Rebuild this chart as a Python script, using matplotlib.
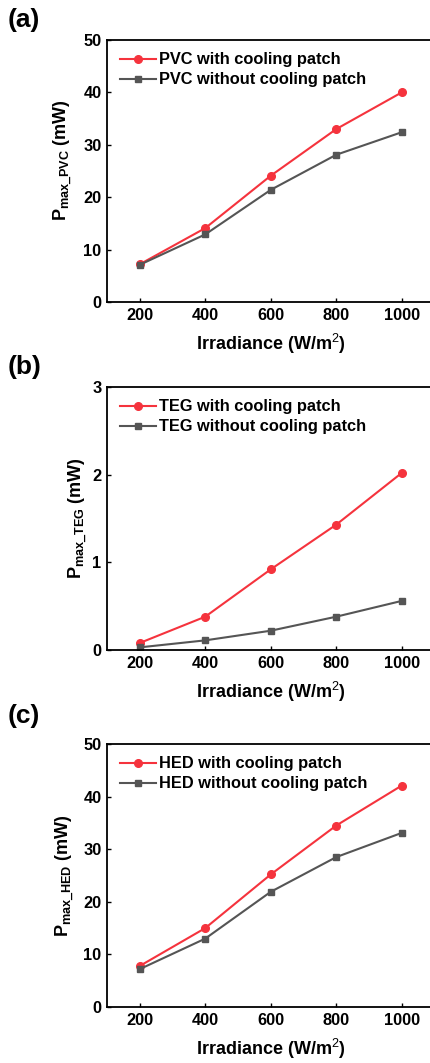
import matplotlib
matplotlib.use('Agg')
import matplotlib.pyplot as plt

plt.rcParams['font.family'] = ['Liberation Sans', 'DejaVu Sans']
plt.rcParams['mathtext.fontset'] = 'custom'
plt.rcParams['mathtext.rm'] = 'Liberation Sans'
plt.rcParams['mathtext.default'] = 'rm'

# datos
irradiance = [200, 400, 600, 800, 1000]

pvc_with = [7.2, 14.1, 24.1, 33.0, 40.0]
pvc_without = [7.1, 12.9, 21.4, 28.1, 32.4]

teg_with = [0.08, 0.38, 0.92, 1.43, 2.02]
teg_without = [0.03, 0.11, 0.22, 0.38, 0.56]

hed_with = [7.8, 15.0, 25.2, 34.5, 42.1]
hed_without = [7.2, 13.0, 21.9, 28.5, 33.1]

panels = [
    ('(a)', 'PVC', pvc_with, pvc_without, (0, 50), [0, 10, 20, 30, 40, 50]),
    ('(b)', 'TEG', teg_with, teg_without, (0, 3), [0, 1, 2, 3]),
    ('(c)', 'HED', hed_with, hed_without, (0, 50), [0, 10, 20, 30, 40, 50]),
]

W, H = 431, 1063
fig = plt.figure(figsize=(W / 100, H / 100), dpi=100)

# posicion de cada panel en pixeles (arriba, abajo, rotulo) y del ylabel (x, y en ejes)
ax_px = [(40, 302, 20), (387, 650, 367), (744, 1007, 716)]
ylab_pos = [(-0.133, 0.54), (-0.087, 0.5), (-0.127, 0.5)]
left_px, width_px = 107, 327.5

red = '#f5333d'
gray = '#555555'

for (lab, name, y1, y2, ylim, yt), (top, bot, lab_y), (lx, ly) in zip(panels, ax_px, ylab_pos):
    ax = fig.add_axes([left_px / W, 1 - bot / H, width_px / W, (bot - top) / H])
    ax.plot(irradiance, y1, '-o', color=red, lw=1.5, ms=5.5, label=name + ' with cooling patch')
    ax.plot(irradiance, y2, '-s', color=gray, lw=1.5, ms=5, label=name + ' without cooling patch')
    ax.set_xlim(100, 1100)
    ax.set_ylim(*ylim)
    ax.set_xticks(irradiance)
    ax.set_yticks(yt)
    ax.tick_params(direction='in', length=3, width=1, labelsize=11.8, pad=4)
    for t in ax.get_xticklabels() + ax.get_yticklabels():
        t.set_fontweight('bold')
    for s in ax.spines.values():
        s.set_linewidth(1.3)
    ax.set_xlabel('Irradiance (W/m$^2$)', fontsize=13, fontweight='bold', labelpad=7)
    ax.set_ylabel('P$_{\\mathregular{max\\_' + name + '}}$ (mW)', fontsize=13, fontweight='bold',
                  va='center')
    ax.yaxis.set_label_coords(lx, ly)
    leg = ax.legend(loc='upper left', frameon=False, fontsize=11.8, handlelength=2.2,
                    handletextpad=0.2, labelspacing=0.3, borderaxespad=0.2,
                    bbox_to_anchor=(0.01, 0.99))
    for t in leg.get_texts():
        t.set_fontweight('bold')
    fig.text(8 / W, 1 - lab_y / H, lab, fontsize=19, fontweight='bold', va='center', ha='left')

plt.savefig('out.png', dpi=100)
plt.close('all')
